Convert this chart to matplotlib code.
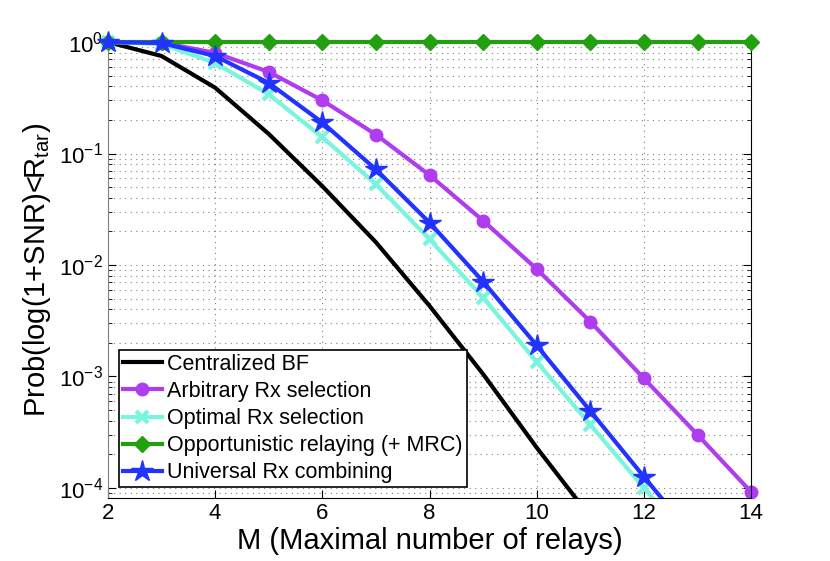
import matplotlib
matplotlib.use("Agg")
import matplotlib.pyplot as plt
import matplotlib.patches as mpatches
import numpy as np

plt.rcParams['font.family'] = ['Liberation Sans', 'DejaVu Sans']
plt.rcParams['mathtext.fontset'] = 'custom'
plt.rcParams['mathtext.rm'] = 'Liberation Sans'
plt.rcParams['mathtext.it'] = 'Liberation Sans'

M = np.arange(2, 15)

m_bf = np.arange(2, 12)
p_bf = [1.0, 0.75, 0.39, 0.15, 0.051, 0.016, 0.0043, 0.00105, 0.00023, 0.000055]

p_arb = [1.0, 0.99, 0.80, 0.54, 0.30, 0.148, 0.064, 0.025, 0.0092, 0.0031, 0.00096, 0.00030, 0.000092]

m_opt = np.arange(2, 14)
p_opt = [1.0, 0.96, 0.65, 0.34, 0.14, 0.053, 0.017, 0.0051, 0.00135, 0.00037, 0.0001, 0.000027]

p_opp = [1.0] * len(M)

m_uni = np.arange(2, 14)
p_uni = [1.0, 0.98, 0.75, 0.43, 0.19, 0.072, 0.024, 0.0071, 0.0019, 0.00049, 0.000126, 0.000033]

fig, ax = plt.subplots(figsize=(8.3, 5.61), dpi=100)
fig.subplots_adjust(left=0.130, right=0.905, top=0.925, bottom=0.112)

lw = 3
lines = []
lines += ax.semilogy(m_bf, p_bf, color="black", lw=lw, label="Centralized BF")
lines += ax.semilogy(M, p_arb, color="#b03cf0", lw=lw, marker="o", ms=9, label="Arbitrary Rx selection")
lines += ax.semilogy(m_opt, p_opt, color="#78f5dc", lw=lw, marker="x", ms=9, mew=3, label="Optimal Rx selection")
lines += ax.semilogy(M, p_opp, color="#22a010", lw=lw, marker="D", ms=8, label="Opportunistic relaying (+ MRC)", zorder=5)
lines += ax.semilogy(m_uni, p_uni, color="#2233ff", lw=lw, marker="*", ms=16, label="Universal Rx combining", zorder=6)

# clip only at the bottom so markers sitting on y=1 are drawn whole
clip = mpatches.Rectangle((-0.05, 0), 1.1, 1.2, transform=ax.transAxes, fill=False, visible=False)
ax.add_patch(clip)
for ln in lines:
    ln.set_clip_path(clip)

ax.set_xlim(2, 14)
ax.set_ylim(8.1e-5, 1)
ax.set_xticks([2, 4, 6, 8, 10, 12, 14])

ax.grid(True, which="major", linestyle=(0, (1, 4)), color="#808080", lw=0.8)
ax.grid(True, which="minor", axis="y", linestyle=(0, (1, 4)), color="#808080", lw=0.8)
ax.tick_params(which="both", direction="in", labelsize=16, top=False, right=True)
ax.tick_params(which="major", length=6)
ax.tick_params(which="minor", length=3)
for side in ["left", "top"]:
    ax.spines[side].set_color("#808080")

ax.set_xlabel("M (Maximal number of relays)", fontsize=21, labelpad=2)
ax.set_ylabel(r"Prob(log(1+SNR)<R$_{\mathrm{tar}}$)", fontsize=21, labelpad=4)

leg = ax.legend(loc="lower left", fontsize=15.5, fancybox=False, framealpha=1,
                edgecolor="black", borderpad=0.2, labelspacing=0.28, handlelength=1.8,
                handletextpad=0.25, borderaxespad=0.5)
leg.get_frame().set_linewidth(1.2)

plt.savefig("out.png", dpi=100)
